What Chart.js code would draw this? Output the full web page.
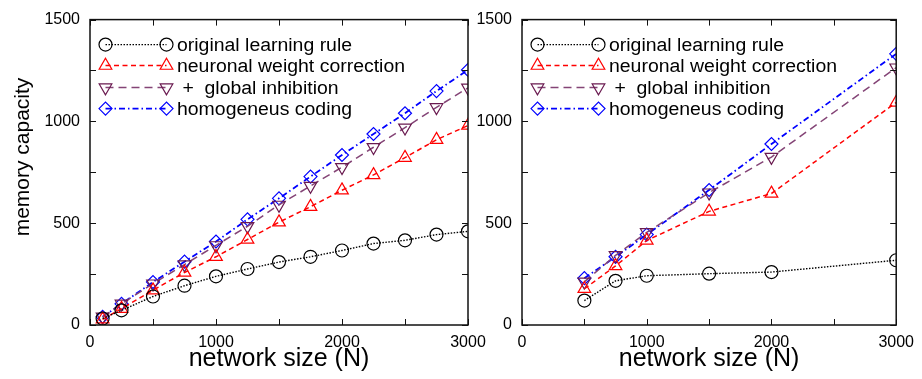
<!DOCTYPE html>
<html>
<head>
<meta charset="utf-8">
<script src="https://cdn.jsdelivr.net/npm/chart.js@4"></script>
<style>
  body { margin: 0; background: #fff; }
  #wrap { position: relative; width: 922px; height: 379px; overflow: hidden; }
  canvas { position: absolute; top: 0; }
</style>
</head>
<body>
<div id="wrap">
  <canvas id="leftChart" width="500" height="379" style="left:0px"></canvas>
  <canvas id="rightChart" width="482" height="379" style="left:440px"></canvas>
</div>
<script>
// series labels
var seriesNames = ['original learning rule', 'neuronal weight correction', ' +  global inhibition', 'homogeneus coding'];

// left panel
var leftN = [100, 250, 500, 750, 1000, 1250, 1500, 1750, 2000, 2250, 2500, 2750, 3000];
var leftOriginal = [32, 72, 140, 193, 239, 275, 309, 335, 366, 400, 416, 444, 460];
var leftNeuronal = [28, 80, 171, 258, 335, 420, 505, 581, 662, 737, 822, 910, 980];
var leftGlobal = [40, 104, 203, 297, 391, 485, 590, 683, 775, 873, 969, 1069, 1165];
var leftHomog = [40, 104, 211, 311, 410, 519, 622, 729, 835, 938, 1040, 1149, 1253];

// right panel
var rightN = [500, 750, 1000, 1500, 2000, 3000];
var rightOriginal = [120, 217, 242, 252, 260, 318];
var rightNeuronal = [178, 290, 415, 558, 646, 1093];
var rightGlobal = [212, 342, 455, 650, 825, 1264];
var rightHomog = [230, 335, 444, 663, 889, 1332];

// axes
var xTickLabels = [0, 1000, 2000, 3000];
var yTickLabels = [0, 500, 1000, 1500];
var xTitle = 'network size (N)';
var yTitle = 'memory capacity';

var FONT = '"Liberation Sans", Arial, sans-serif';

function pairs(xs, ys) {
  return xs.map(function (x, i) { return { x: x, y: ys[i] }; });
}

var styles = [
  { line: '#000000', point: '#000000', dash: [1.5, 1.5], width: 1.4, pointStyle: 'circle', radius: 6.5, rotation: 0 },
  { line: '#ff0000', point: '#ff0000', dash: [5, 3.5], width: 1.5, pointStyle: 'triangle', radius: 7.3, rotation: 0 },
  { line: '#844476', point: '#6a1a50', dash: [8, 5], width: 1.5, pointStyle: 'triangle', radius: 7.3, rotation: 180 },
  { line: '#0000ff', point: '#0000ff', dash: [6, 3, 1.5, 3], width: 1.8, pointStyle: 'rectRot', radius: 6.5, rotation: 0 }
];

function makeDatasets(xs, series) {
  return series.map(function (ys, i) {
    var s = styles[i];
    return {
      label: seriesNames[i],
      data: pairs(xs, ys),
      showLine: true,
      borderColor: s.line,
      borderWidth: s.width,
      borderDash: s.dash,
      pointStyle: s.pointStyle,
      pointRotation: s.rotation,
      pointRadius: s.radius,
      pointHoverRadius: s.radius,
      pointBorderColor: s.point,
      pointBorderWidth: 1.2,
      pointBackgroundColor: 'rgba(0,0,0,0)',
      tension: 0
    };
  });
}

// frame, inward ticks, legend and axis titles
var decorPlugin = {
  id: 'decor',
  afterDraw: function (chart, args, opts) {
    var ctx = chart.ctx;
    var a = chart.chartArea;
    var xs = chart.scales.x, ys = chart.scales.y;
    var tl = 6;
    ctx.save();
    ctx.strokeStyle = '#111';
    ctx.lineWidth = 1;
    ctx.setLineDash([]);
    xs.ticks.forEach(function (t) {
      var px = Math.round(xs.getPixelForValue(t.value)) + 0.5;
      ctx.beginPath();
      ctx.moveTo(px, a.bottom); ctx.lineTo(px, a.bottom - tl);
      ctx.moveTo(px, a.top); ctx.lineTo(px, a.top + tl);
      ctx.stroke();
    });
    ys.ticks.forEach(function (t) {
      var py = Math.round(ys.getPixelForValue(t.value)) + 0.5;
      ctx.beginPath();
      ctx.moveTo(a.left, py); ctx.lineTo(a.left + tl, py);
      ctx.moveTo(a.right, py); ctx.lineTo(a.right - tl, py);
      ctx.stroke();
    });
    ctx.lineWidth = 1.5;
    ctx.strokeRect(a.left, a.top, a.right - a.left, a.bottom - a.top);

    // legend
    var rows = [25, 46, 68, 89];
    chart.data.datasets.forEach(function (ds, i) {
      var y = a.top + rows[i];
      var x1 = a.left + 15.5, x2 = a.left + 76.5;
      ctx.strokeStyle = ds.borderColor;
      ctx.lineWidth = ds.borderWidth;
      ctx.setLineDash(ds.borderDash);
      ctx.beginPath();
      ctx.moveTo(x1, y); ctx.lineTo(x2, y);
      ctx.stroke();
      ctx.setLineDash([]);
      ctx.strokeStyle = ds.pointBorderColor;
      ctx.fillStyle = 'rgba(0,0,0,0)';
      ctx.lineWidth = ds.pointBorderWidth;
      [x1, x2].forEach(function (px) {
        Chart.helpers.drawPoint(ctx, {
          pointStyle: ds.pointStyle, rotation: ds.pointRotation,
          radius: ds.pointRadius, borderWidth: ds.pointBorderWidth
        }, px, y);
      });
      ctx.save();
      ctx.translate(a.left + 87, y);
      ctx.scale(1.08, 1);
      ctx.fillStyle = '#000';
      ctx.font = '18px ' + FONT;
      ctx.textAlign = 'left';
      ctx.textBaseline = 'middle';
      ctx.fillText(ds.label, 0, 1);
      ctx.restore();
    });

    // axis titles
    ctx.fillStyle = '#000';
    ctx.textAlign = 'center';
    ctx.textBaseline = 'middle';
    ctx.font = '25px ' + FONT;
    ctx.fillText(xTitle, (a.left + a.right) / 2, 359);
    if (opts.yTitle) {
      ctx.save();
      ctx.translate(23, 157);
      ctx.rotate(-Math.PI / 2);
      ctx.font = '21px ' + FONT;
      ctx.fillText(yTitle, 0, 0);
      ctx.restore();
    }
    ctx.restore();
  }
};

function makeConfig(xs, series, yWidth, padRight, showYTitle) {
  return {
    type: 'scatter',
    data: { datasets: makeDatasets(xs, series) },
    options: {
      responsive: false,
      animation: false,
      devicePixelRatio: 1,
      layout: { padding: { left: 0, right: padRight, top: 12, bottom: 0 } },
      plugins: {
        legend: { display: false },
        tooltip: { enabled: false },
        decor: { yTitle: showYTitle }
      },
      scales: {
        x: {
          type: 'linear', min: 0, max: 3000,
          grid: { display: false, drawTicks: false },
          border: { display: false },
          ticks: {
            stepSize: 500, autoSkip: false, maxRotation: 0, padding: 8,
            color: '#000', font: { family: FONT, size: 16 },
            callback: function (v) { return xTickLabels.indexOf(v) >= 0 ? String(v) : ''; }
          },
          afterFit: function (s) { s.height = 54; }
        },
        y: {
          type: 'linear', min: 0, max: 1500,
          grid: { display: false, drawTicks: false },
          border: { display: false },
          ticks: {
            stepSize: 250, autoSkip: false, padding: 10,
            color: '#000', font: { family: FONT, size: 16 },
            callback: function (v) { return yTickLabels.indexOf(v) >= 0 ? String(v) : ''; }
          },
          afterFit: function (s) { s.width = yWidth; }
        }
      }
    },
    plugins: [decorPlugin]
  };
}

new Chart(document.getElementById('leftChart'),
  makeConfig(leftN, [leftOriginal, leftNeuronal, leftGlobal, leftHomog], 90, 32, true));
new Chart(document.getElementById('rightChart'),
  makeConfig(rightN, [rightOriginal, rightNeuronal, rightGlobal, rightHomog], 82, 21, false));
</script>
</body>
</html>
